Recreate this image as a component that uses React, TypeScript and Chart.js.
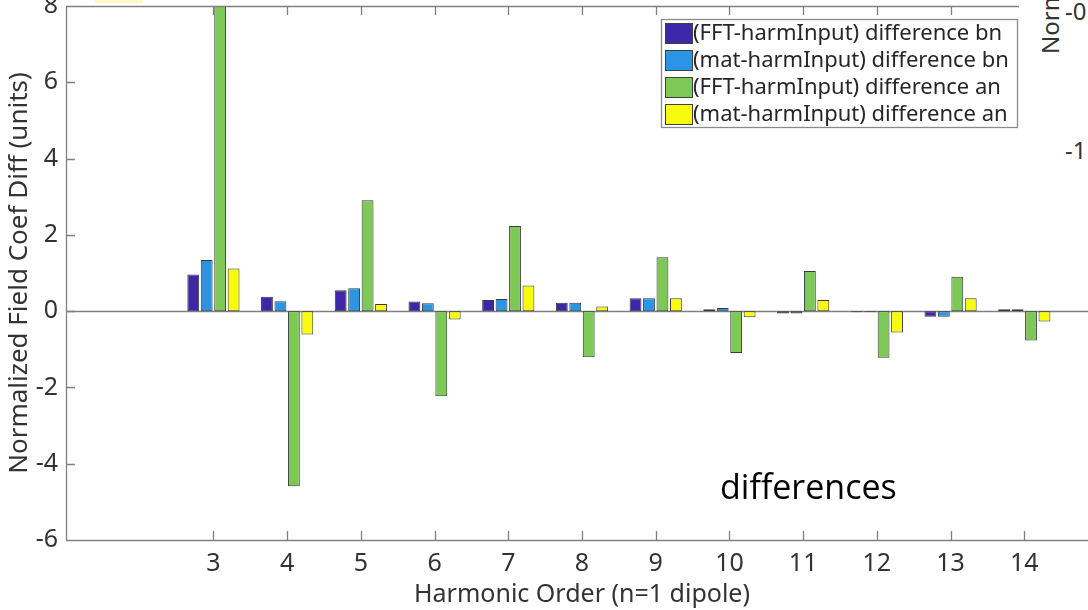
import React, { useEffect, useRef } from 'react';
import { Chart, registerables } from 'chart.js';

Chart.register(...registerables);

// Harmonic orders with data, and the full axis range of orders (1..15)
const harmonicOrders = [3, 4, 5, 6, 7, 8, 9, 10, 11, 12, 13, 14];
const axisOrders = [1, 2, 3, 4, 5, 6, 7, 8, 9, 10, 11, 12, 13, 14, 15];

// Normalized field coefficient differences (units)
const fftBnDiff = [0.96, 0.38, 0.55, 0.25, 0.29, 0.22, 0.34, 0.05, -0.06, -0.03, -0.15, 0.05];
const matBnDiff = [1.34, 0.26, 0.6, 0.21, 0.32, 0.22, 0.34, 0.08, -0.06, -0.03, -0.15, 0.05];
const fftAnDiff = [8.9, -4.59, 2.91, -2.23, 2.23, -1.21, 1.41, -1.1, 1.05, -1.22, 0.9, -0.77];
const matAnDiff = [1.12, -0.61, 0.19, -0.22, 0.67, 0.12, 0.34, -0.16, 0.29, -0.56, 0.34, -0.27];

const seriesLabels = [
  '(FFT-harmInput) difference bn',
  '(mat-harmInput) difference bn',
  '(FFT-harmInput) difference an',
  '(mat-harmInput) difference an',
];
const seriesColors = ['#3e26a8', '#2b95e5', '#7ec857', '#f9fb0e'];
const yTicks = [-6, -4, -2, 0, 2, 4, 6, 8];

const FONT = '"Noto Sans", "Open Sans", sans-serif';
const TEXT_COLOR = '#333333';
const AXIS_COLOR = '#808080';

const onAxis = (values: number[]) =>
  axisOrders.map((o) => {
    const i = harmonicOrders.indexOf(o);
    return i >= 0 ? values[i] : null;
  });

// Box axes with inward tick marks, zero baseline, in-plot legend and note
const matlabAxes = {
  id: 'matlabAxes',
  beforeDatasetsDraw(chart: any) {
    const { ctx, chartArea, scales } = chart;
    const y0 = Math.round(scales.y.getPixelForValue(0)) + 0.5;
    ctx.save();
    ctx.strokeStyle = AXIS_COLOR;
    ctx.lineWidth = 1.3;
    ctx.beginPath();
    ctx.moveTo(chartArea.left, y0);
    ctx.lineTo(chartArea.right, y0);
    ctx.stroke();
    ctx.restore();
  },
  afterDatasetsDraw(chart: any) {
    const { ctx, chartArea, scales } = chart;
    const { left, right, top, bottom } = chartArea;
    const tick = 9;
    ctx.save();
    ctx.strokeStyle = AXIS_COLOR;
    ctx.lineWidth = 1.3;
    ctx.beginPath();
    ctx.moveTo(left + 0.5, top);
    ctx.lineTo(left + 0.5, bottom);
    ctx.moveTo(left, bottom + 0.5);
    ctx.lineTo(right, bottom + 0.5);
    ctx.moveTo(left, top + 0.5);
    ctx.lineTo(right, top + 0.5);
    ctx.moveTo(right - 0.5, top);
    ctx.lineTo(right - 0.5, bottom);
    harmonicOrders.forEach((o) => {
      const x = Math.round(scales.x.getPixelForValue(axisOrders.indexOf(o))) + 0.5;
      ctx.moveTo(x, bottom);
      ctx.lineTo(x, bottom - tick);
      ctx.moveTo(x, top);
      ctx.lineTo(x, top + tick);
    });
    yTicks.forEach((v) => {
      const y = Math.round(scales.y.getPixelForValue(v)) + 0.5;
      ctx.moveTo(left, y);
      ctx.lineTo(left + tick, y);
      ctx.moveTo(right, y);
      ctx.lineTo(right - tick, y);
    });
    ctx.stroke();
    ctx.restore();
  },
  afterDraw(chart: any) {
    const { ctx } = chart;
    // legend
    const bx = 661;
    const by = 19;
    const bw = 356;
    const bh = 108;
    ctx.save();
    ctx.fillStyle = '#ffffff';
    ctx.fillRect(bx, by, bw, bh);
    ctx.strokeStyle = '#8a8a8a';
    ctx.lineWidth = 1.3;
    ctx.strokeRect(bx + 0.5, by + 0.5, bw, bh);
    ctx.font = `22px ${FONT}`;
    ctx.textBaseline = 'middle';
    chart.data.datasets.forEach((ds: any, i: number) => {
      const cy = by + 14 + i * 27;
      ctx.fillStyle = ds.backgroundColor;
      ctx.fillRect(bx + 4, cy - 10, 27, 20);
      ctx.strokeStyle = '#404040';
      ctx.lineWidth = 1;
      ctx.strokeRect(bx + 4.5, cy - 9.5, 27, 20);
      ctx.fillStyle = '#262626';
      ctx.fillText(ds.label, bx + 32, cy + 1);
    });
    // note
    ctx.fillStyle = '#000000';
    ctx.font = `34px "Open Sans", sans-serif`;
    ctx.textBaseline = 'alphabetic';
    ctx.fillText('differences', 720, 499);
    ctx.restore();
  },
};

export default function App() {
  const canvasRef = useRef<HTMLCanvasElement | null>(null);

  useEffect(() => {
    if (!canvasRef.current) return;
    const seriesValues = [fftBnDiff, matBnDiff, fftAnDiff, matAnDiff];
    const chart = new Chart(canvasRef.current, {
      type: 'bar',
      data: {
        labels: axisOrders.map(String),
        datasets: seriesValues.map((vals, i) => ({
          label: seriesLabels[i],
          data: onAxis(vals),
          backgroundColor: seriesColors[i],
          borderColor: '#3a3a3a',
          borderWidth: 1,
          borderSkipped: false,
          categoryPercentage: 0.73,
          barPercentage: 0.88,
        })),
      },
      options: {
        animation: false,
        responsive: false,
        maintainAspectRatio: false,
        layout: { padding: { top: 6, right: 12, left: 0, bottom: 0 } },
        plugins: {
          legend: { display: false },
          tooltip: { enabled: false },
        },
        scales: {
          x: {
            type: 'category',
            offset: false,
            grid: { display: false, drawTicks: false },
            border: { display: false },
            ticks: {
              autoSkip: false,
              maxRotation: 0,
              padding: 9,
              color: TEXT_COLOR,
              font: { family: FONT, size: 25 },
              callback: (_v: any, i: number) =>
                harmonicOrders.includes(axisOrders[i]) ? String(axisOrders[i]) : '',
            },
            title: {
              display: true,
              text: 'Harmonic Order (n=1 dipole)',
              color: TEXT_COLOR,
              font: { family: FONT, size: 25 },
              padding: { top: 0, bottom: 0 },
            },
            afterFit: (s: any) => {
              s.height = 70;
              s.paddingLeft = 0;
              s.paddingRight = 0;
            },
          },
          y: {
            min: -6,
            max: 8,
            grid: { display: false, drawTicks: false },
            border: { display: false },
            afterBuildTicks: (s: any) => {
              s.ticks = yTicks.map((v) => ({ value: v }));
            },
            ticks: {
              padding: 8,
              color: TEXT_COLOR,
              font: { family: FONT, size: 25 },
            },
            title: {
              display: true,
              text: 'Normalized Field Coef Diff (units)',
              color: TEXT_COLOR,
              font: { family: FONT, size: 26 },
              padding: { top: 4, bottom: 0 },
            },
            afterFit: (s: any) => {
              s.width = 66;
              s.paddingTop = 0;
              s.paddingBottom = 0;
            },
          },
        },
      },
      plugins: [matlabAxes],
    });
    return () => chart.destroy();
  }, []);

  return (
    <div
      style={{
        position: 'fixed',
        left: 0,
        top: 0,
        width: 1088,
        height: 610,
        overflow: 'hidden',
        background: '#ffffff',
      }}
    >
      <canvas
        ref={canvasRef}
        width={1110}
        height={610}
        style={{ position: 'absolute', left: 0, top: 0, width: 1110, height: 610 }}
      />
      <div
        style={{
          position: 'absolute',
          left: 95,
          top: 0,
          width: 48,
          height: 3,
          background: '#fdf8c8',
        }}
      />
      <div
        style={{
          position: 'absolute',
          left: 1019,
          top: 0,
          width: 69,
          height: 262,
          background: '#ffffff',
          fontFamily: FONT,
          fontSize: 24,
          color: TEXT_COLOR,
        }}
      >
        <div
          style={{
            position: 'absolute',
            left: 19,
            top: 54,
            lineHeight: '24px',
            whiteSpace: 'nowrap',
            transform: 'rotate(-90deg)',
            transformOrigin: 'left top',
          }}
        >
          Normalized Field Coef
        </div>
        <div style={{ position: 'absolute', left: 46, top: -5, lineHeight: '32px', whiteSpace: 'nowrap' }}>
          -0.5
        </div>
        <div style={{ position: 'absolute', left: 46, top: 134, lineHeight: '32px', whiteSpace: 'nowrap' }}>
          -1
        </div>
      </div>
    </div>
  );
}
